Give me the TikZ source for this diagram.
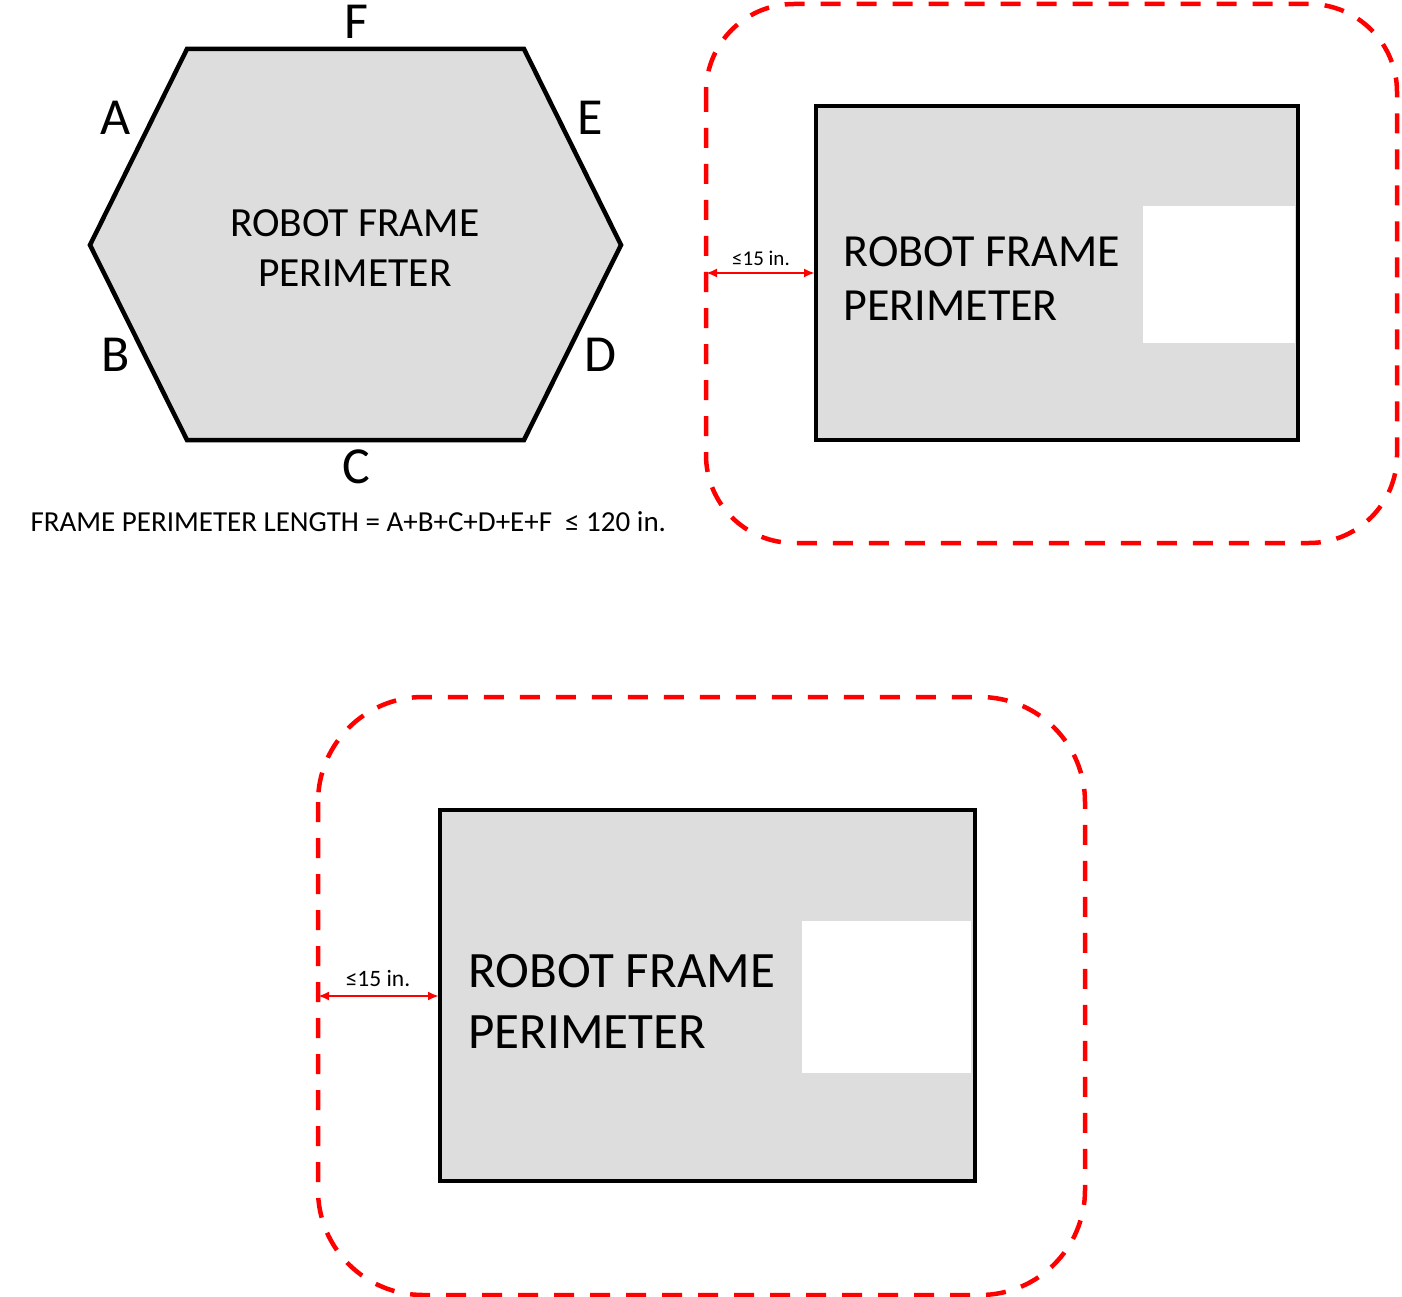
\documentclass[tikz,border=0pt]{standalone}
\usepackage{fontspec}
\setmainfont{Carlito}
\usetikzlibrary{arrows.meta}
\definecolor{framegray}{RGB}{221,221,221}
\definecolor{zonered}{RGB}{255,0,0}
\tikzset{
  framebox/.style={draw=black, fill=framegray, line width=4.5pt, line join=miter},
  zone/.style={draw=zonered, line width=4.5pt, dash pattern=on 20pt off 16pt},
  gap/.style={draw=zonered, line width=2.8pt, {Latex[length=11pt,width=9pt]}-{Latex[length=11pt,width=9pt]}},
  sidelabel/.style={font=\fontsize{52}{52}\selectfont},
}
\begin{document}
\begin{tikzpicture}[x=1pt,y=-1pt]
        \useasboundingbox (0,0) rectangle (1402,1297);

        % hexagon frame
        \draw[framebox] (187,49) -- (524,49) -- (621,245) -- (524,440) -- (187,440) -- (90,245) -- cycle;
        \node[align=center, font=\fontsize{41.5}{50}\selectfont] (hexText) at (355,248) {ROBOT FRAME\\PERIMETER};

        \node[sidelabel] (sideF) at (356,22) {F};
        \node[sidelabel] (sideA) at (116,118) {A};
        \node[sidelabel] (sideE) at (590,118) {E};
        \node[sidelabel] (sideB) at (116,355) {B};
        \node[sidelabel] (sideD) at (600,355) {D};
        \node[sidelabel] (sideC) at (356,467) {C};

        \node[anchor=west, font=\fontsize{29}{29}\selectfont] (formula) at (27,522) {FRAME PERIMETER LENGTH = A+B+C+D+E+F \ ≤ 120 in.};

        % top right frame
        \draw[zone, rounded corners=88pt] (706,4) rectangle (1397,543);
        \draw[framebox] (816,106) rectangle (1298,440);
        \fill[white] (1143,206) rectangle (1295,343);
        \node[anchor=west, align=left, font=\fontsize{46}{54}\selectfont] (topText) at (840,279) {ROBOT FRAME\\PERIMETER};

        \coordinate (topGapL) at (706,273);
        \coordinate (topGapR) at (815,273);
        \draw[gap] (topGapL) -- (topGapR);
        \node[font=\fontsize{21}{21}\selectfont] (topGapText) at (761,258) {≤15 in.};

        % bottom frame
        \draw[zone, rounded corners=105pt] (318,697) rectangle (1085,1295);
        \draw[framebox] (440,810) rectangle (975,1181);
        \fill[white] (802,921) rectangle (971,1073);
        \node[anchor=west, align=left, font=\fontsize{51}{61}\selectfont] (botText) at (465,1001) {ROBOT FRAME\\PERIMETER};

        \coordinate (botGapL) at (318,996);
        \coordinate (botGapR) at (439,996);
        \draw[gap] (botGapL) -- (botGapR);
        \node[font=\fontsize{23.5}{23.5}\selectfont] (botGapText) at (378,978) {≤15 in.};
    \end{tikzpicture}
\end{document}
